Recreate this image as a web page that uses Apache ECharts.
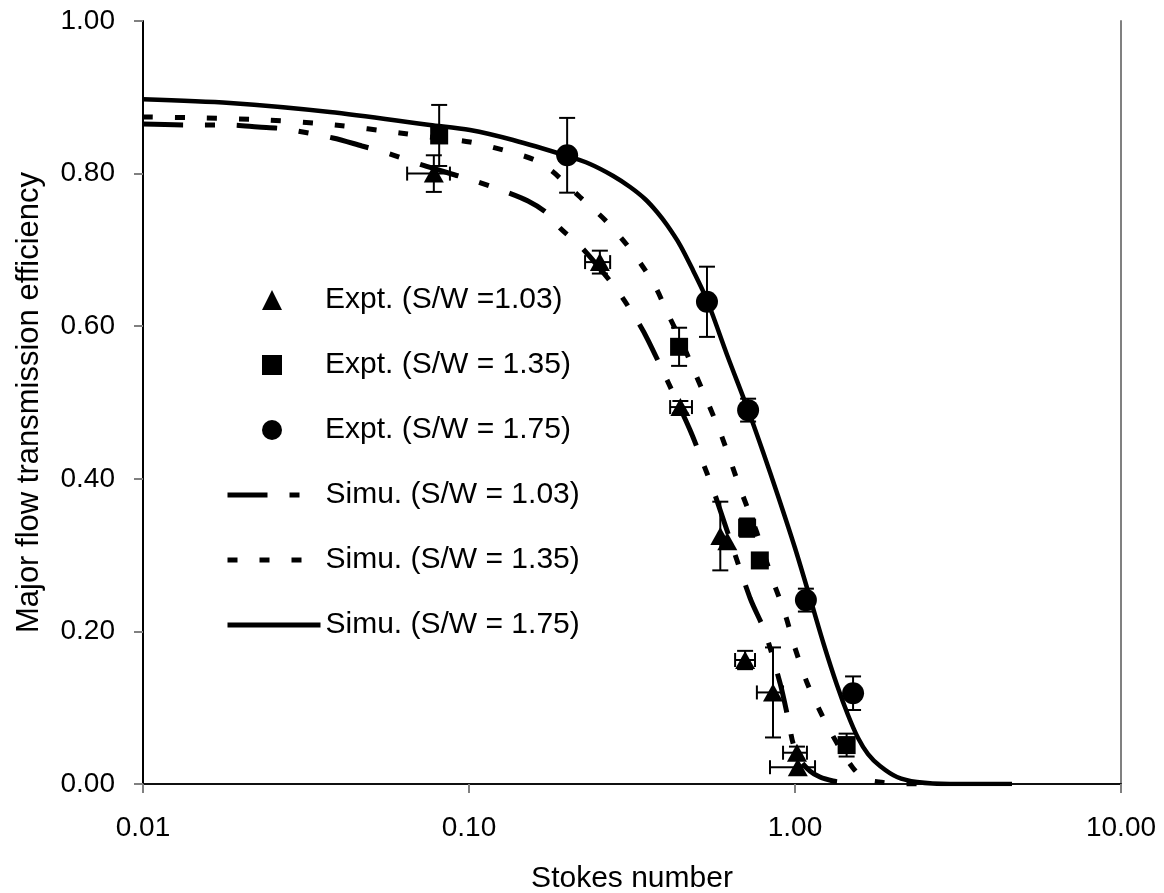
<!DOCTYPE html>
<html>
<head>
<meta charset="utf-8">
<script src="https://cdn.jsdelivr.net/npm/echarts@6/dist/echarts.min.js"></script>
<style>html,body{margin:0;padding:0;background:#fff;}#c{width:1164px;height:893px;}</style>
</head>
<body>
<div id="c"></div>
<script>
// ---- Axis texts ----
const xTitle = 'Stokes number';
const yTitle = 'Major flow transmission efficiency';

// ---- Experimental data: S/W = 1.03 (triangles) ----
const triX    = [0.078, 0.252, 0.445, 0.59, 0.62, 0.703, 0.856, 1.014, 1.02];
const triY    = [0.80, 0.684, 0.494, 0.325, 0.318, 0.1625, 0.12, 0.041, 0.022];
const triYErr = [0.024, 0.015, 0.008, 0.045, 0, 0.012, 0.059, 0.008, 0];
const triXLo  = [0.0646, 0.227, 0.414, null, null, 0.655, 0.764, 0.919, 0.838];
const triXHi  = [0.0874, 0.271, 0.483, null, null, 0.754, 0.919, 1.088, 1.152];

// ---- Experimental data: S/W = 1.35 (squares) ----
const sqX    = [0.081, 0.441, 0.713, 0.78, 1.44];
const sqY    = [0.85, 0.573, 0.336, 0.293, 0.051];
const sqYErr = [0.04, 0.025, 0.012, 0.008, 0.015];

// ---- Experimental data: S/W = 1.75 (circles) ----
const ciX    = [0.2, 0.537, 0.718, 1.08, 1.507];
const ciY    = [0.824, 0.632, 0.49, 0.241, 0.119];
const ciYErr = [0.049, 0.046, 0.015, 0.015, 0.022];

// ---- Simulation curves ----
const sim103X = [0.01, 0.01423, 0.01849, 0.02253, 0.02727, 0.03825, 0.04697, 0.05603, 0.07177, 0.1043, 0.1272, 0.1517, 0.1735, 0.1902, 0.2238, 0.2844, 0.33, 0.354, 0.405, 0.4764, 0.5223, 0.5685, 0.7278, 0.809, 0.8995, 0.9517, 0.986, 1.036, 1.112, 1.193, 1.308, 1.374];
const sim103Y = [0.865, 0.8637, 0.8637, 0.8611, 0.8585, 0.8467, 0.8362, 0.827, 0.8113, 0.7903, 0.7775, 0.7641, 0.7483, 0.7287, 0.7012, 0.6474, 0.6055, 0.5819, 0.5295, 0.464, 0.4207, 0.3788, 0.2438, 0.1992, 0.1324, 0.0865, 0.0537, 0.0315, 0.017, 0.0092, 0.0039, 0.0026];

const sim135X = [0.01, 0.01527, 0.02417, 0.03882, 0.0614, 0.0759, 0.1007, 0.1272, 0.1594, 0.1797, 0.197, 0.219, 0.2614, 0.3053, 0.3466, 0.3773, 0.405, 0.4533, 0.4935, 0.5409, 0.597, 0.678, 0.7645, 0.85, 0.932, 1.0, 1.096, 1.21, 1.345, 1.506, 1.64, 1.823, 2.099, 2.594, 2.7];
const sim135Y = [0.8742, 0.8729, 0.8702, 0.8637, 0.8532, 0.848, 0.8414, 0.8309, 0.8178, 0.8034, 0.7877, 0.7693, 0.7392, 0.7064, 0.6737, 0.6474, 0.6186, 0.5754, 0.5387, 0.4993, 0.4548, 0.3879, 0.329, 0.27, 0.2228, 0.1782, 0.1297, 0.0904, 0.0537, 0.021, 0.0066, 0.0026, 0.0, 0.0, 0.0];

const sim175X = [0.01, 0.01849, 0.03741, 0.0759, 0.1007, 0.1365, 0.1998, 0.235, 0.277, 0.312, 0.3466, 0.3773, 0.405, 0.444, 0.486, 0.537, 0.619, 0.718, 0.798, 0.887, 1.0, 1.112, 1.227, 1.345, 1.454, 1.561, 1.675, 1.823, 2.055, 2.367, 2.99, 4.63];
const sim175Y = [0.8974, 0.8925, 0.8807, 0.8637, 0.8571, 0.844, 0.8231, 0.8126, 0.7969, 0.7824, 0.7667, 0.7497, 0.7326, 0.7064, 0.6737, 0.6343, 0.5623, 0.4902, 0.4351, 0.3775, 0.3093, 0.2438, 0.1822, 0.1297, 0.0904, 0.0603, 0.0393, 0.0236, 0.0092, 0.0026, 0.0, 0.0];

const names = ['Expt. (S/W =1.03)', 'Expt. (S/W = 1.35)', 'Expt. (S/W = 1.75)',
               'Simu. (S/W = 1.03)', 'Simu. (S/W = 1.35)', 'Simu. (S/W = 1.75)'];

// ---- build library data ----
const zip = (xs, ys) => xs.map((x, i) => [x, ys[i]]);
function errRows(xs, ys, yerr, xlo, xhi) {
  return xs.map((x, i) => [x, ys[i],
    xlo ? (xlo[i] == null ? x : xlo[i]) : x,
    xhi ? (xhi[i] == null ? x : xhi[i]) : x,
    ys[i] - (yerr[i] || 0), ys[i] + (yerr[i] || 0)]);
}
const errData = [].concat(
  errRows(triX, triY, triYErr, triXLo, triXHi),
  errRows(sqX, sqY, sqYErr),
  errRows(ciX, ciY, ciYErr)
);

function renderErr(params, api) {
  const x = api.value(0), y = api.value(1);
  const xlo = api.value(2), xhi = api.value(3), ylo = api.value(4), yhi = api.value(5);
  const st = { stroke: '#000', lineWidth: 2 };
  const ch = [];
  const seg = (a, b, c, d) => ch.push({ type: 'line', shape: { x1: a, y1: b, x2: c, y2: d }, style: st });
  if (yhi > ylo) {
    const p1 = api.coord([x, ylo]), p2 = api.coord([x, yhi]);
    seg(p1[0], p1[1], p2[0], p2[1]);
    seg(p1[0] - 8, p1[1], p1[0] + 8, p1[1]);
    seg(p2[0] - 8, p2[1], p2[0] + 8, p2[1]);
  }
  if (xhi > xlo) {
    const q1 = api.coord([xlo, y]), q2 = api.coord([xhi, y]);
    seg(q1[0], q1[1], q2[0], q2[1]);
    seg(q1[0], q1[1] - 7, q1[0], q1[1] + 7);
    seg(q2[0], q2[1] - 7, q2[0], q2[1] + 7);
  }
  return { type: 'group', children: ch };
}

const FONT = 'Liberation Sans, Arial, sans-serif';
const legendText = { fontFamily: FONT, fontSize: 30, color: '#000', lineHeight: 30 };

const chart = echarts.init(document.getElementById('c'), null, { renderer: 'canvas' });
chart.setOption({
  animation: false,
  backgroundColor: '#fff',
  textStyle: { fontFamily: FONT, color: '#000' },
  grid: { left: 143, right: 43, top: 21, bottom: 109, containLabel: false, outerBoundsMode: 'none' },
  legend: [{
    orient: 'vertical', left: 262, top: 285, padding: 0,
    itemWidth: 20, itemHeight: 20, itemGap: 35,
    data: names.slice(0, 3),
    textStyle: Object.assign({ padding: [0, 0, 0, 38] }, legendText)
  }, {
    orient: 'vertical', left: 225, top: 480, padding: 0,
    itemWidth: 93, itemHeight: 20, itemGap: 35,
    lineStyle: { width: 5 },
    data: names.slice(3).map(n => ({ name: n, itemStyle: { opacity: 0 } })),
    textStyle: legendText
  }],
  xAxis: [{
    type: 'log', logBase: 10, min: 0.01, max: 10,
    name: xTitle, nameLocation: 'middle', nameGap: 80,
    nameTextStyle: { fontFamily: FONT, fontSize: 30, color: '#000' },
    axisLine: { lineStyle: { color: '#404040', width: 2 } },
    axisTick: { show: true, length: 9, lineStyle: { color: '#808080', width: 2 } },
    minorTick: { show: false },
    axisLabel: { fontFamily: FONT, fontSize: 28, color: '#000', margin: 30,
      formatter: v => Number(v).toFixed(2) },
    splitLine: { show: false }
  }, {
    type: 'log', logBase: 10, min: 0.01, max: 10, position: 'top',
    axisLine: { show: true, lineStyle: { color: '#000', width: 1.5 } },
    axisTick: { show: false }, axisLabel: { show: false }, splitLine: { show: false }
  }],
  yAxis: [{
    type: 'value', min: 0, max: 1, interval: 0.2,
    name: yTitle, nameLocation: 'middle', nameGap: 98,
    nameTextStyle: { fontFamily: FONT, fontSize: 31, color: '#000' },
    axisLine: { show: true, lineStyle: { color: '#000', width: 2 } },
    axisTick: { show: true, length: 9, lineStyle: { color: '#808080', width: 2 } },
    axisLabel: { fontFamily: FONT, fontSize: 28, color: '#000', margin: 28,
      formatter: v => Number(v).toFixed(2) },
    splitLine: { show: false }
  }, {
    type: 'value', min: 0, max: 1, position: 'right',
    axisLine: { show: true, lineStyle: { color: '#808080', width: 2 } },
    axisTick: { show: false }, axisLabel: { show: false }, splitLine: { show: false }
  }],
  series: [
    { type: 'custom', name: 'err', renderItem: renderErr, data: errData,
      encode: { x: 0, y: 1 }, dimensions: ['x', 'y', 'xlo', 'xhi', 'ylo', 'yhi'], z: 3, silent: true },
    { type: 'line', name: names[3], data: zip(sim103X, sim103Y), symbol: 'none', smooth: 0.3,
      lineStyle: { color: '#000', width: 5, type: [40, 22, 10, 22], cap: 'butt' }, itemStyle: { color: '#000' }, z: 2 },
    { type: 'line', name: names[4], data: zip(sim135X, sim135Y), symbol: 'none', smooth: 0.3,
      lineStyle: { color: '#000', width: 5, type: [10, 22], cap: 'butt' }, itemStyle: { color: '#000' }, z: 2 },
    { type: 'line', name: names[5], data: zip(sim175X, sim175Y), symbol: 'none', smooth: 0.3,
      lineStyle: { color: '#000', width: 4.5, type: 'solid' }, itemStyle: { color: '#000' }, z: 2 },
    { type: 'scatter', name: names[0], data: zip(triX, triY), symbol: 'triangle', symbolSize: [20, 18],
      itemStyle: { color: '#000', opacity: 1 }, z: 4 },
    { type: 'scatter', name: names[1], data: zip(sqX, sqY), symbol: 'rect', symbolSize: 18,
      itemStyle: { color: '#000', opacity: 1 }, z: 4 },
    { type: 'scatter', name: names[2], data: zip(ciX, ciY), symbol: 'circle', symbolSize: 22,
      itemStyle: { color: '#000', opacity: 1 }, z: 4 }
  ]
});
</script>
</body>
</html>
